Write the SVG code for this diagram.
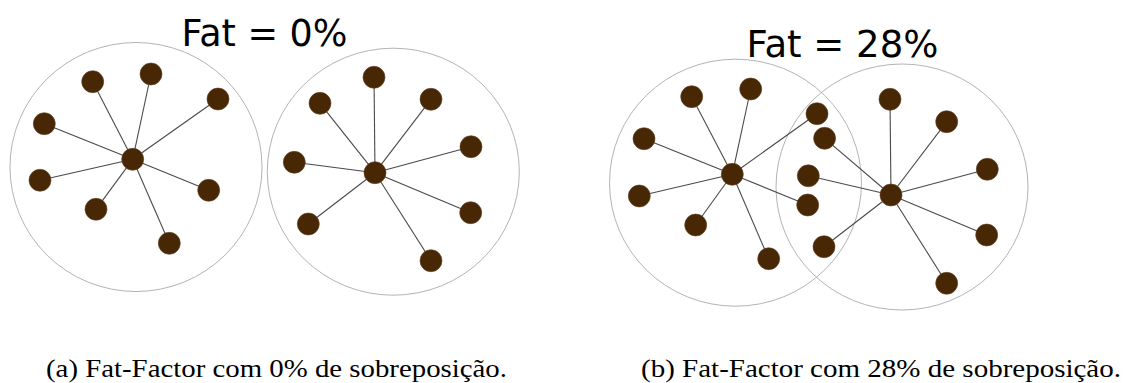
<svg xmlns="http://www.w3.org/2000/svg" width="1124" height="383" viewBox="0 0 1124 383">
<style>
.bg{fill:#ffffff}
.ring{fill:none;stroke:#b4b4b4;stroke-width:1}
.edge{stroke:#4a4a4a;stroke-width:1.1}
.node{fill:#482804;stroke:#5e4026;stroke-width:0.6}
.title{font-family:"DejaVu Sans",sans-serif;font-size:36.5px;fill:#000}
.cap{font-family:"Liberation Serif",serif;font-size:25.5px;fill:#000}
</style>
<rect class="bg" x="0" y="0" width="1124" height="383"/>
<g id="rings">
<ellipse class="ring" cx="136" cy="167" rx="126" ry="124.5"/>
<ellipse class="ring" cx="393.3" cy="171.7" rx="126" ry="123.5"/>
<ellipse class="ring" cx="735.5" cy="182.7" rx="126" ry="123.5"/>
<ellipse class="ring" cx="902" cy="187" rx="126" ry="123"/>
</g>
<g id="connectors">
<line class="edge" x1="132.7" y1="159.3" x2="92.7" y2="81.7"/>
<line class="edge" x1="132.7" y1="159.3" x2="151" y2="74"/>
<line class="edge" x1="132.7" y1="159.3" x2="218" y2="99"/>
<line class="edge" x1="132.7" y1="159.3" x2="44.3" y2="123.7"/>
<line class="edge" x1="132.7" y1="159.3" x2="40" y2="180.3"/>
<line class="edge" x1="132.7" y1="159.3" x2="96" y2="209.3"/>
<line class="edge" x1="132.7" y1="159.3" x2="208.7" y2="190.3"/>
<line class="edge" x1="132.7" y1="159.3" x2="169.3" y2="243.3"/>
<line class="edge" x1="375" y1="172.7" x2="374" y2="77.3"/>
<line class="edge" x1="375" y1="172.7" x2="320" y2="103.3"/>
<line class="edge" x1="375" y1="172.7" x2="431" y2="99.3"/>
<line class="edge" x1="375" y1="172.7" x2="471" y2="146.7"/>
<line class="edge" x1="375" y1="172.7" x2="294.3" y2="162.3"/>
<line class="edge" x1="375" y1="172.7" x2="308.3" y2="224"/>
<line class="edge" x1="375" y1="172.7" x2="470.7" y2="212.7"/>
<line class="edge" x1="375" y1="172.7" x2="431" y2="260.7"/>
<line class="edge" x1="732.3" y1="174.3" x2="691.7" y2="96.7"/>
<line class="edge" x1="732.3" y1="174.3" x2="750.7" y2="89"/>
<line class="edge" x1="732.3" y1="174.3" x2="644" y2="138.7"/>
<line class="edge" x1="732.3" y1="174.3" x2="639.3" y2="196"/>
<line class="edge" x1="732.3" y1="174.3" x2="695.7" y2="225"/>
<line class="edge" x1="732.3" y1="174.3" x2="768.7" y2="258.7"/>
<line class="edge" x1="732.3" y1="174.3" x2="817" y2="113.7"/>
<line class="edge" x1="732.3" y1="174.3" x2="807.7" y2="205"/>
<line class="edge" x1="891" y1="195" x2="890" y2="99.3"/>
<line class="edge" x1="891" y1="195" x2="946.7" y2="121.7"/>
<line class="edge" x1="891" y1="195" x2="987.3" y2="169.3"/>
<line class="edge" x1="891" y1="195" x2="986.7" y2="235"/>
<line class="edge" x1="891" y1="195" x2="946.7" y2="283.3"/>
<line class="edge" x1="891" y1="195" x2="824" y2="246.7"/>
<line class="edge" x1="891" y1="195" x2="808.3" y2="175.8"/>
<line class="edge" x1="891" y1="195" x2="824.6" y2="138.3"/>
</g>
<g id="a-left-hub"><circle class="node" cx="132.7" cy="159.3" r="11"/></g>
<g id="a-left-n1"><circle class="node" cx="92.7" cy="81.7" r="11"/></g>
<g id="a-left-n2"><circle class="node" cx="151" cy="74" r="11"/></g>
<g id="a-left-n3"><circle class="node" cx="218" cy="99" r="11"/></g>
<g id="a-left-n4"><circle class="node" cx="44.3" cy="123.7" r="11"/></g>
<g id="a-left-n5"><circle class="node" cx="40" cy="180.3" r="11"/></g>
<g id="a-left-n6"><circle class="node" cx="96" cy="209.3" r="11"/></g>
<g id="a-left-n7"><circle class="node" cx="208.7" cy="190.3" r="11"/></g>
<g id="a-left-n8"><circle class="node" cx="169.3" cy="243.3" r="11"/></g>
<g id="a-right-hub"><circle class="node" cx="375" cy="172.7" r="11"/></g>
<g id="a-right-n1"><circle class="node" cx="374" cy="77.3" r="11"/></g>
<g id="a-right-n2"><circle class="node" cx="320" cy="103.3" r="11"/></g>
<g id="a-right-n3"><circle class="node" cx="431" cy="99.3" r="11"/></g>
<g id="a-right-n4"><circle class="node" cx="471" cy="146.7" r="11"/></g>
<g id="a-right-n5"><circle class="node" cx="294.3" cy="162.3" r="11"/></g>
<g id="a-right-n6"><circle class="node" cx="308.3" cy="224" r="11"/></g>
<g id="a-right-n7"><circle class="node" cx="470.7" cy="212.7" r="11"/></g>
<g id="a-right-n8"><circle class="node" cx="431" cy="260.7" r="11"/></g>
<g id="b-left-hub"><circle class="node" cx="732.3" cy="174.3" r="11"/></g>
<g id="b-left-n1"><circle class="node" cx="691.7" cy="96.7" r="11"/></g>
<g id="b-left-n2"><circle class="node" cx="750.7" cy="89" r="11"/></g>
<g id="b-left-n3"><circle class="node" cx="644" cy="138.7" r="11"/></g>
<g id="b-left-n4"><circle class="node" cx="639.3" cy="196" r="11"/></g>
<g id="b-left-n5"><circle class="node" cx="695.7" cy="225" r="11"/></g>
<g id="b-left-n6"><circle class="node" cx="768.7" cy="258.7" r="11"/></g>
<g id="b-left-n7"><circle class="node" cx="817" cy="113.7" r="11"/></g>
<g id="b-left-n8"><circle class="node" cx="807.7" cy="205" r="11"/></g>
<g id="b-right-hub"><circle class="node" cx="891" cy="195" r="11"/></g>
<g id="b-right-n1"><circle class="node" cx="890" cy="99.3" r="11"/></g>
<g id="b-right-n2"><circle class="node" cx="946.7" cy="121.7" r="11"/></g>
<g id="b-right-n3"><circle class="node" cx="987.3" cy="169.3" r="11"/></g>
<g id="b-right-n4"><circle class="node" cx="986.7" cy="235" r="11"/></g>
<g id="b-right-n5"><circle class="node" cx="946.7" cy="283.3" r="11"/></g>
<g id="b-right-n6"><circle class="node" cx="824" cy="246.7" r="11"/></g>
<g id="b-right-n7"><circle class="node" cx="808.3" cy="175.8" r="11"/></g>
<g id="b-right-n8"><circle class="node" cx="824.6" cy="138.3" r="11"/></g>
<g id="labels">
<text class="title" x="181.5" y="45.7">Fat = 0%</text>
<text class="title" x="746.5" y="56.7" style="font-size:37px">Fat = 28%</text>
<text class="cap" x="46" y="377" textLength="461" lengthAdjust="spacingAndGlyphs">(a) Fat-Factor com 0% de sobreposição.</text>
<text class="cap" x="641" y="377" textLength="480" lengthAdjust="spacingAndGlyphs">(b) Fat-Factor com 28% de sobreposição.</text>
</g>
</svg>
